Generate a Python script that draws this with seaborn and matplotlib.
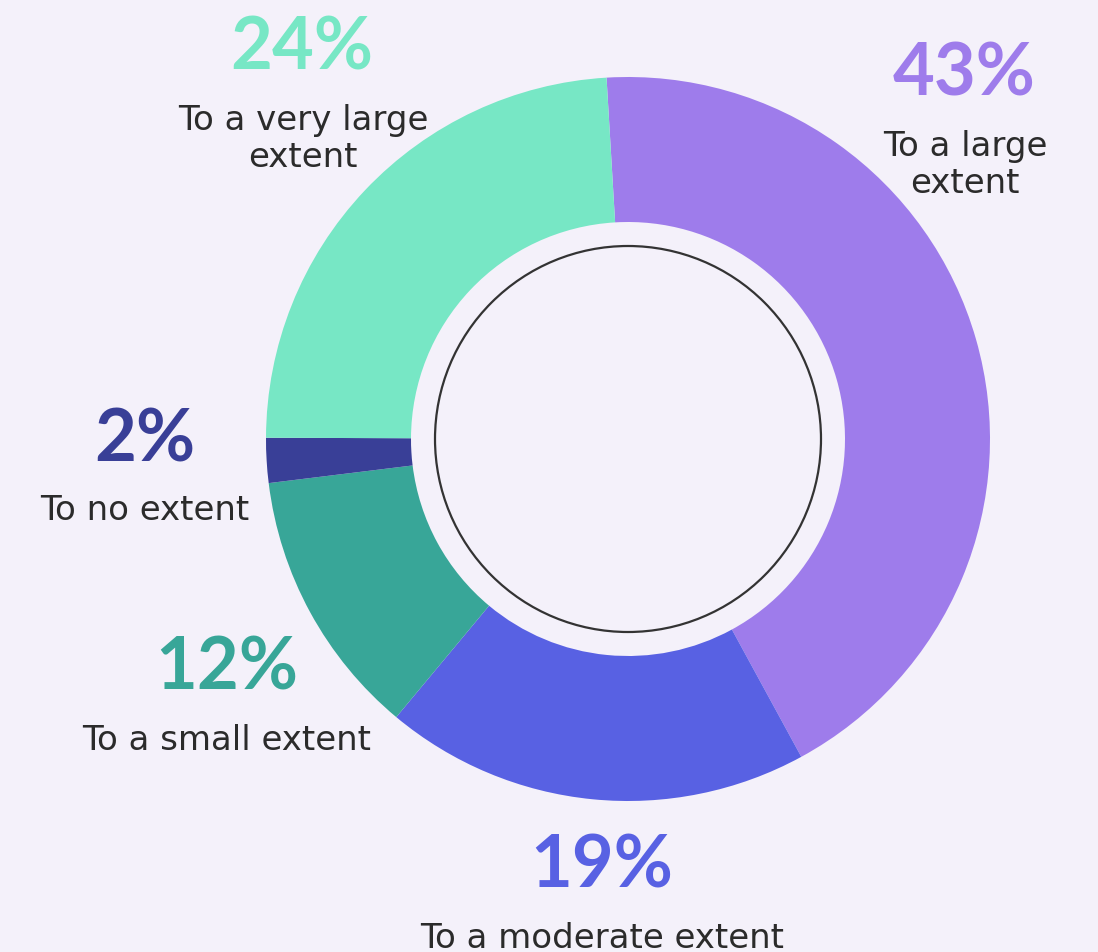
# Donut chart: extent of agreement, with big coloured percentages
import matplotlib
matplotlib.use("Agg")
import matplotlib.pyplot as plt
import seaborn as sns
from matplotlib.patches import Circle

categories = ["To a large\nextent", "To a moderate extent", "To a small extent",
              "To no extent", "To a very large\nextent"]
shares = [43, 19, 12, 2, 24]
colors = ["#9E7CEB", "#5861E3", "#38A698", "#393F97", "#77E7C5"]

BG = "#F4F1FA"
TXT = "#2B2B2B"
W, H = 1098, 953

sns.set_theme(style="white", rc={"figure.facecolor": BG, "axes.facecolor": BG})
plt.rcParams["font.family"] = ["Lato", "DejaVu Sans"]

fig = plt.figure(figsize=(W / 100, H / 100), dpi=100)
ax = fig.add_axes([0, 0, 1, 1])

cx, cy = 628, H - 440
ax.pie(shares, colors=colors, startangle=93.4, counterclock=False,
       radius=362, center=(cx, cy),
       wedgeprops=dict(width=362 - 217, linewidth=0))
ax.add_patch(Circle((cx, cy), 193, facecolor=BG, edgecolor="#333333", linewidth=1.6))

# anchor points in pixels: percentage baseline, label last-line baseline
pct_pos = [(964, 95), (602, 888), (227, 690), (145, 462), (302, 70)]
lab_pos = [(965, 193), (602, 948), (227, 750), (145, 520), (303, 167)]

for cat, val, col, (px, py), (lx, ly) in zip(categories, shares, colors, pct_pos, lab_pos):
    ax.text(px, H - py, f"{val}%", color=col, fontsize=52, fontweight="bold",
            ha="center", va="baseline")
    ax.text(lx, H - ly, cat, color=TXT, fontsize=24.5, family="DejaVu Sans",
            ha="center", va="baseline", linespacing=1.17, multialignment="center")

ax.set_xlim(0, W)
ax.set_ylim(0, H)
ax.set_aspect("equal")
ax.axis("off")

fig.savefig("out.png", dpi=100, facecolor=BG)
